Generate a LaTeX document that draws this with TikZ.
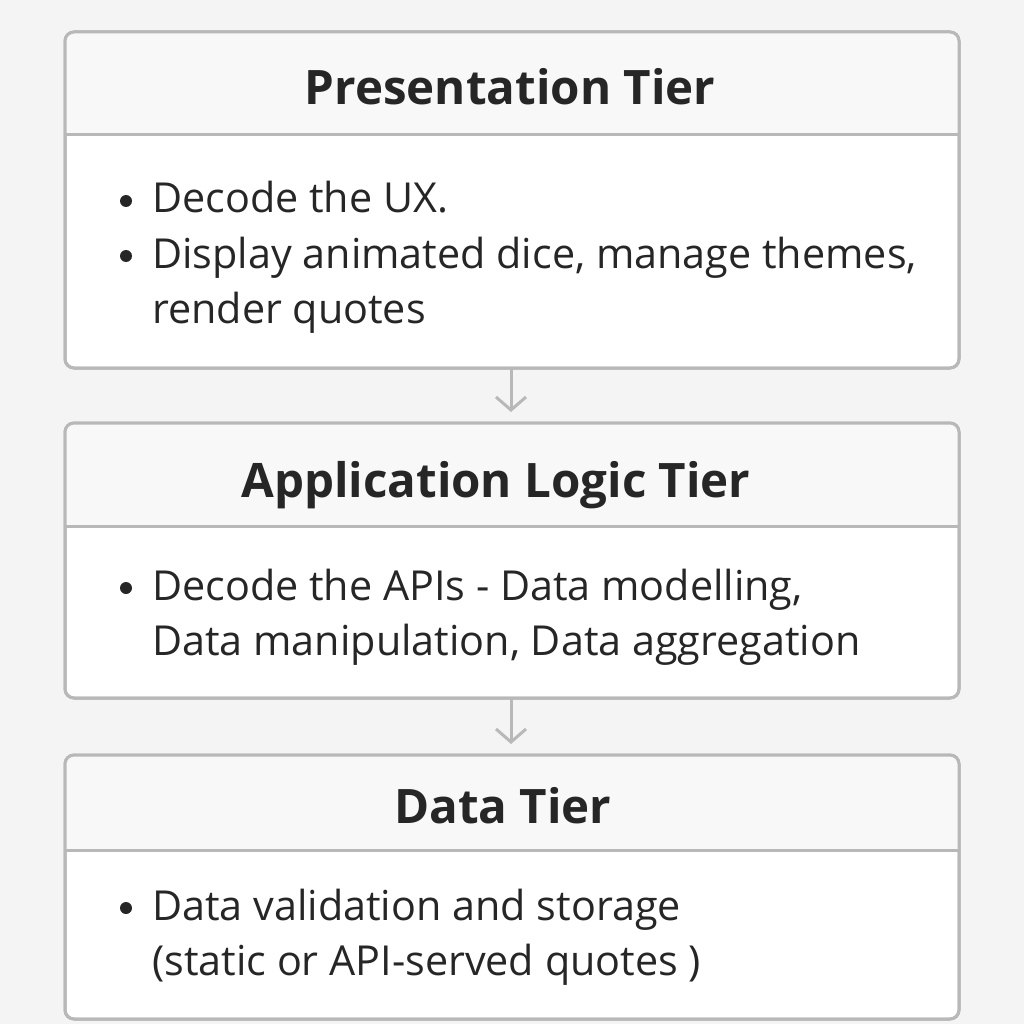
\documentclass[tikz,border=0pt]{standalone}
\usepackage{fontspec}
\setmainfont{Open Sans}
\usetikzlibrary{arrows.meta}
\definecolor{bgc}{HTML}{F4F4F4}
\definecolor{hdc}{HTML}{F8F8F8}
\definecolor{edgec}{HTML}{B8B8B8}
\definecolor{txtc}{HTML}{262626}
\tikzset{
  x=1pt,y=-1pt,
  frame/.style={draw=edgec,line width=3pt,rounded corners=9pt},
  divline/.style={draw=edgec,line width=3pt},
  titletext/.style={anchor=base,font=\fontsize{47.5}{56}\selectfont\bfseries,text=txtc,inner sep=0pt},
  bodytext/.style={anchor=base west,font=\fontsize{41.3}{55}\selectfont,text=txtc,inner sep=0pt},
  bulletdot/.style={circle,fill=txtc,inner sep=0pt,minimum size=12pt},
  flow/.style={draw=edgec,line width=3pt,-{Straight Barb[length=13pt,width=30pt,line width=3pt]}},
}
\begin{document}
\begin{tikzpicture}
\useasboundingbox (0,0) rectangle (1024,1024);
\fill[bgc] (0,0) rectangle (1024,1024);
% Box 1
\path[frame,fill=white] (65,32) rectangle (959,368);
\begin{scope}
\clip[rounded corners=9pt] (65,32) rectangle (959,368);
\fill[hdc] (65,32) rectangle (959,135);
\end{scope}
\draw[frame] (65,32) rectangle (959,368);
\draw[divline] (65,135) -- (959,135);
\node[titletext] (t1) at (510,105) {Presentation Tier};
\node[bulletdot] (b1a) at (126,201) {};
\node[bodytext] (l1a) at (152,213) {Decode the UX.};
\node[bulletdot] (b1b) at (126,256) {};
\node[bodytext] (l1b) at (152,268) {Display animated dice, manage themes,};
\node[bodytext] (l1c) at (152,323) {render quotes};
\coordinate (box1s) at (511,368);
\coordinate (box2n) at (511,412);
% Box 2
\path[frame,fill=white] (65,423) rectangle (959,698);
\begin{scope}
\clip[rounded corners=9pt] (65,423) rectangle (959,698);
\fill[hdc] (65,423) rectangle (959,526);
\end{scope}
\draw[frame] (65,423) rectangle (959,698);
\draw[divline] (65,526) -- (959,526);
\node[titletext] (t2) at (496,497) {Application Logic Tier};
\node[bulletdot] (b2a) at (126,588) {};
\node[bodytext] (l2a) at (152,600) {Decode the APIs - Data modelling,};
\node[bodytext] (l2b) at (152,655) {Data manipulation, Data aggregation};
\coordinate (box2s) at (511,698);
\coordinate (box3n) at (511,744);
% Box 3
\path[frame,fill=white] (65,755) rectangle (959,1019);
\begin{scope}
\clip[rounded corners=9pt] (65,755) rectangle (959,1019);
\fill[hdc] (65,755) rectangle (959,850);
\end{scope}
\draw[frame] (65,755) rectangle (959,1019);
\draw[divline] (65,850) -- (959,850);
\node[titletext] (t3) at (503,823) {Data Tier};
\node[bulletdot] (b3a) at (126,908) {};
\node[bodytext] (l3a) at (152,920) {Data validation and storage};
\node[bodytext] (l3b) at (152,975) {(static or API-served quotes )};
% arrows
\draw[flow] (box1s) -- (box2n);
\draw[flow] (box2s) -- (box3n);
\end{tikzpicture}
\end{document}
